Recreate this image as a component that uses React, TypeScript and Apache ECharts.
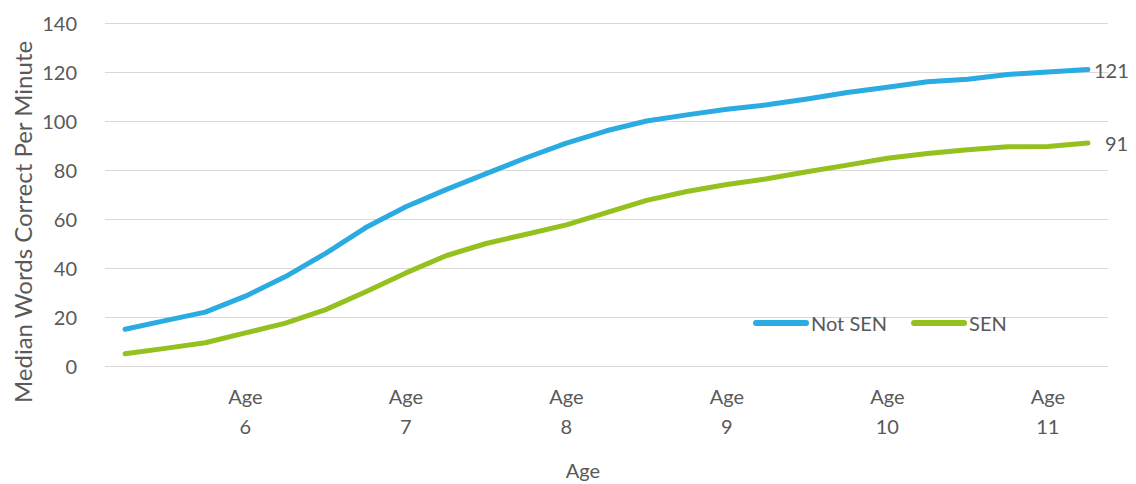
import React, { useEffect, useRef } from "react";
import * as echarts from "echarts";

const categories: string[] = [
  "", "", "", "Age\n6", "", "", "", "Age\n7", "", "", "", "Age\n8", "",
  "", "", "Age\n9", "", "", "", "Age\n10", "", "", "", "Age\n11", "",
];
const notSen: number[] = [
  15, 18.5, 22, 28.5, 36.5, 46, 56.5, 65, 72, 78.5, 85, 91, 96, 100, 102.5,
  104.8, 106.6, 109, 111.6, 113.8, 116, 117, 119, 120, 121,
];
const sen: number[] = [
  5, 7.2, 9.5, 13.5, 17.5, 23, 30.3, 38, 45, 50, 53.8, 57.6, 62.6, 67.6, 71.2,
  74.1, 76.4, 79.3, 82, 84.8, 86.7, 88.3, 89.5, 89.6, 91,
];
const yTicks = { min: 0, max: 140, interval: 20 };

const FONT = "Lato";
const TXT = "#595959";
const CAPSULE = "path://M3,0 H53 A3,3 0 0 1 53,6 H3 A3,3 0 0 1 3,0 Z";

export default function App() {
  const ref = useRef<HTMLDivElement>(null);
  useEffect(() => {
    document.body.style.margin = "0";
    const chart = echarts.init(ref.current!, null, { renderer: "svg" });
    chart.setOption({
      animation: false,
      backgroundColor: "#ffffff",
      textStyle: { fontFamily: FONT, color: TXT },
      grid: { left: 105, right: 28, top: 23, bottom: 118, containLabel: false },
      legend: {
        left: 748,
        top: 308,
        icon: CAPSULE,
        itemWidth: 56,
        itemHeight: 6,
        itemGap: 24,
        textStyle: { fontFamily: FONT, fontSize: 20, color: TXT, padding: [0, 0, 0, -3] },
        data: ["Not SEN", "SEN"],
      },
      xAxis: {
        type: "category",
        data: categories,
        boundaryGap: true,
        axisLine: { show: false },
        axisTick: { show: false },
        axisLabel: {
          interval: 0,
          margin: 15,
          fontFamily: FONT,
          fontSize: 20,
          lineHeight: 30,
          color: TXT,
          align: "center",
        },
      },
      yAxis: {
        type: "value",
        min: yTicks.min,
        max: yTicks.max,
        interval: yTicks.interval,
        axisLine: { show: false },
        axisTick: { show: false },
        axisLabel: { margin: 28, fontFamily: FONT, fontSize: 20, color: TXT },
        splitLine: { lineStyle: { color: "#d9d9d9", width: 1 } },
      },
      graphic: [
        {
          type: "text",
          x: 583,
          y: 470,
          style: {
            text: "Age",
            font: `20px ${FONT}`,
            fill: TXT,
            align: "center",
            verticalAlign: "middle",
          },
        },
        {
          type: "text",
          x: 22,
          y: 222,
          rotation: Math.PI / 2,
          style: {
            text: "Median Words Correct Per Minute",
            font: `24px ${FONT}`,
            fill: TXT,
            align: "center",
            verticalAlign: "middle",
          },
        },
      ],
      series: [
        {
          name: "Not SEN",
          type: "line",
          data: notSen,
          symbol: "none",
          color: "#2aabe2",
          lineStyle: { width: 5, cap: "round", join: "round", color: "#2aabe2" },
          endLabel: {
            show: true,
            formatter: (p: any) => String(Math.round(p.value)),
            distance: 6,
            fontFamily: FONT,
            fontSize: 20,
            color: TXT,
          },
        },
        {
          name: "SEN",
          type: "line",
          data: sen,
          symbol: "none",
          color: "#95c11f",
          lineStyle: { width: 5, cap: "round", join: "round", color: "#95c11f" },
          endLabel: {
            show: true,
            formatter: (p: any) => String(Math.round(p.value)),
            distance: 17,
            fontFamily: FONT,
            fontSize: 20,
            color: TXT,
          },
        },
      ],
    });
    return () => chart.dispose();
  }, []);
  return (
    <div
      ref={ref}
      style={{ position: "absolute", left: 0, top: 0, width: 1136, height: 484 }}
    />
  );
}
